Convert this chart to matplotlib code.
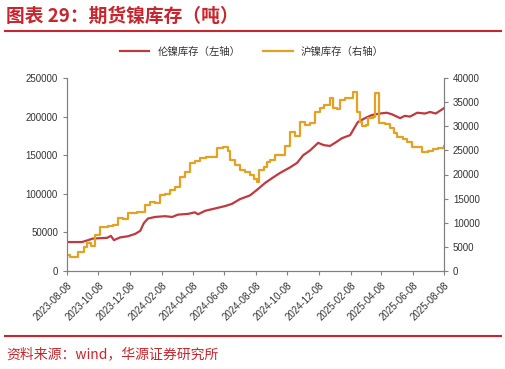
import matplotlib
matplotlib.use("Agg")
import matplotlib.pyplot as plt
import matplotlib.dates as mdates
from matplotlib.lines import Line2D
import pandas as pd

plt.rcParams['font.family'] = ['Liberation Sans', 'Noto Sans CJK SC', 'DejaVu Sans']

# LME nickel stocks, tonnes (left axis)
lme_dates = ["2023-08-08", "2023-09-06", "2023-09-18", "2023-09-27", "2023-10-11",
             "2023-10-25", "2023-11-01", "2023-11-07", "2023-11-19", "2023-12-04",
             "2023-12-18", "2023-12-28", "2024-01-04", "2024-01-12", "2024-01-26",
             "2024-02-14", "2024-02-28", "2024-03-10", "2024-03-30", "2024-04-12",
             "2024-04-18", "2024-05-02", "2024-05-21", "2024-06-09", "2024-06-23",
             "2024-07-08", "2024-07-28", "2024-08-12", "2024-08-26", "2024-09-08",
             "2024-09-24", "2024-10-13", "2024-10-27", "2024-11-08", "2024-11-21",
             "2024-12-07", "2024-12-18", "2024-12-30", "2025-01-11", "2025-01-22",
             "2025-02-07", "2025-02-14", "2025-02-22", "2025-03-08", "2025-03-21",
             "2025-04-06", "2025-04-19", "2025-04-29", "2025-05-15", "2025-05-24",
             "2025-06-03", "2025-06-17", "2025-07-02", "2025-07-12", "2025-07-23",
             "2025-08-08"]
lme_stock = [37500, 37500, 40000, 42000, 42500,
             43000, 45500, 40000, 43500, 45000,
             48000, 52000, 62000, 68000, 70000,
             71000, 70000, 73000, 74000, 76000,
             73500, 78000, 81000, 84000, 87000,
             93000, 98000, 106000, 114000, 120000,
             127000, 134000, 140000, 150000, 156000,
             166000, 163000, 162000, 167000, 172000,
             176000, 184000, 193000, 198000, 202000,
             204000, 205000, 203000, 198000, 201000,
             200000, 205000, 204000, 206000, 204000,
             211000]

# SHFE nickel stocks, tonnes (right axis, weekly steps)
shfe_dates = ["2023-08-08", "2023-08-14", "2023-08-29", "2023-09-10", "2023-09-16",
              "2023-09-24", "2023-10-01", "2023-10-11", "2023-10-27", "2023-11-05",
              "2023-11-15", "2023-11-25", "2023-12-04", "2023-12-22", "2024-01-06",
              "2024-01-16", "2024-01-26", "2024-02-04", "2024-02-14", "2024-02-24",
              "2024-03-04", "2024-03-14", "2024-03-24", "2024-04-02", "2024-04-12",
              "2024-04-22", "2024-05-04", "2024-05-15", "2024-05-25", "2024-06-05",
              "2024-06-15", "2024-06-19", "2024-06-29", "2024-07-08", "2024-07-18",
              "2024-07-28", "2024-08-05", "2024-08-10", "2024-08-14", "2024-08-24",
              "2024-08-30", "2024-09-05", "2024-09-14", "2024-09-24", "2024-10-04",
              "2024-10-13", "2024-10-23", "2024-11-02", "2024-11-11", "2024-11-21",
              "2024-12-01", "2024-12-10", "2024-12-18", "2024-12-30", "2025-01-05",
              "2025-01-12", "2025-01-18", "2025-01-28", "2025-02-07", "2025-02-13",
              "2025-02-20", "2025-02-26", "2025-03-02", "2025-03-10", "2025-03-14",
              "2025-03-23", "2025-03-27", "2025-04-04", "2025-04-16", "2025-04-25",
              "2025-05-03", "2025-05-09", "2025-05-20", "2025-05-28", "2025-06-07",
              "2025-06-26", "2025-07-08", "2025-07-18", "2025-07-27", "2025-08-08"]
shfe_stock = [3300, 2900, 3900, 5000, 5800,
              5200, 7450, 9100, 9300, 9500,
              11000, 10800, 12000, 12200, 13700,
              14300, 14100, 15700, 16000, 16800,
              17500, 19500, 20500, 22300, 22800,
              23400, 23600, 23700, 25500, 25800,
              24800, 23000, 22000, 20900, 20500,
              19900, 19000, 18400, 20900, 21500,
              22600, 23000, 24000, 24000, 26000,
              28800, 28000, 30800, 30200, 30600,
              32900, 33700, 34400, 35800, 33700,
              33600, 35400, 35800, 35800, 37000,
              33000, 30800, 30000, 30200, 31700,
              32000, 36800, 30600, 30400, 29600,
              28600, 27700, 27400, 26700, 25700,
              24600, 24900, 25200, 25500, 26000]

tick_dates = [pd.Timestamp("2023-08-08") + pd.DateOffset(months=2 * i) for i in range(13)]

red = "#BE3A40"
yellow = "#E2A324"
title_red = "#C8262E"
grey = "#808080"

fig = plt.figure(figsize=(5.06, 3.69), dpi=100)
W, H = 506, 369
ax = fig.add_axes([67 / W, 1 - 271 / H, 377 / W, 193 / H])
ax2 = ax.twinx()

l1, = ax.plot(pd.to_datetime(lme_dates), lme_stock, color=red, lw=1.6)
l2, = ax2.plot(pd.to_datetime(shfe_dates), shfe_stock, color=yellow, lw=1.6,
               drawstyle="steps-post")

ax.set_xticks(tick_dates)
ax.xaxis.set_major_formatter(mdates.DateFormatter("%Y-%m-%d"))
ax.set_xlim(pd.Timestamp("2023-08-08"), pd.Timestamp("2025-08-08"))
ax.set_ylim(0, 250000)
ax2.set_ylim(0, 40000)
ax.set_yticks(range(0, 250001, 50000))
ax2.set_yticks(range(0, 40001, 5000))

for a in (ax, ax2):
    a.spines['top'].set_visible(False)
    for s in ('left', 'right', 'bottom'):
        a.spines[s].set_color(grey)
        a.spines[s].set_linewidth(0.8)
    a.tick_params(colors="#333333", labelsize=7, length=3, color=grey, width=0.8)
for lab in ax.get_xticklabels():
    lab.set_rotation(45)
    lab.set_ha("right")
    lab.set_rotation_mode("anchor")

fig.legend([l1, l2], ["伦镍库存（左轴）", "沪镍库存（右轴）"], loc="center",
           bbox_to_anchor=(252 / W, 1 - 52 / H), ncol=2, frameon=False,
           handlelength=2.8, columnspacing=2.2,
           prop={'family': ['Noto Sans CJK SC'], 'size': 7.5})
for t in fig.legends[0].get_texts():
    t.set_color("#333333")

fig.text(6 / W, 1 - 16 / H, "图表 29：期货镍库存（吨）", color=title_red,
         fontsize=13.5, fontweight="bold", va="center", ha="left",
         family=['Noto Sans CJK SC', 'DejaVu Sans'])
fig.add_artist(Line2D([5 / W, 501 / W], [1 - 31 / H] * 2, color=title_red, lw=1.5))
fig.add_artist(Line2D([5 / W, 501 / W], [1 - 336 / H] * 2, color=title_red, lw=1.5))
fig.text(6 / W, 1 - 354 / H, "资料来源：wind，华源证券研究所", color=title_red,
         fontsize=10, va="center", ha="left",
         family=['Noto Sans CJK SC', 'DejaVu Sans'])

fig.savefig("out.png", dpi=100)
